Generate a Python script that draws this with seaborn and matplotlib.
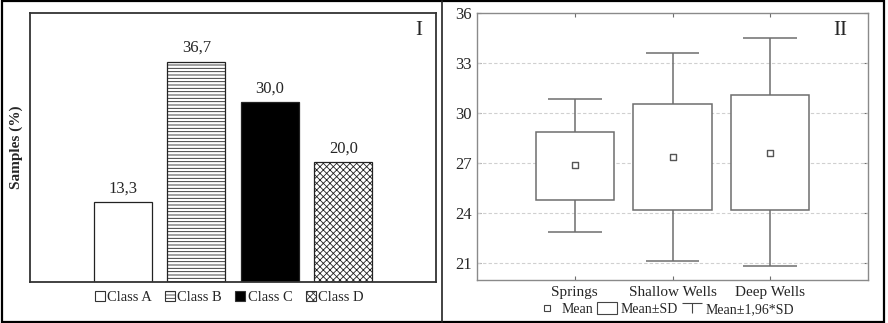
import numpy as np
import pandas as pd
import seaborn as sns
import matplotlib
matplotlib.use("Agg")
import matplotlib.pyplot as plt
from matplotlib.patches import Rectangle, Patch
from matplotlib.lines import Line2D
from matplotlib.path import Path

# ---------------- data ----------------
classes = ["Class A", "Class B", "Class C", "Class D"]
samples_pct = [13.3, 36.7, 30.0, 20.0]
bar_labels = ["13,3", "36,7", "30,0", "20,0"]

sites = ["Springs", "Shallow Wells", "Deep Wells"]
means = [26.88, 27.40, 27.64]
sd_low = [24.82, 24.22, 24.20]
sd_high = [28.86, 30.54, 31.10]
ci_low = [22.90, 21.16, 20.82]
ci_high = [30.84, 33.62, 34.50]
yticks_right = [21, 24, 27, 30, 33, 36]

# ---------------- style ----------------
sns.set_theme(style="white")
plt.rcParams["font.family"] = ["Liberation Serif", "DejaVu Serif"]
plt.rcParams["hatch.linewidth"] = 0.6
plt.rcParams["hatch.color"] = "#999999"

fig = plt.figure(figsize=(8.88, 3.23), dpi=100)

# ---------------- left panel ----------------
axL = fig.add_axes([30/888, 1-282/323, 406/888, 269/323])
df = pd.DataFrame({"cls": classes, "pct": samples_pct})
sns.barplot(data=df, x="cls", y="pct", order=classes, color="white",
            width=0.79, ax=axL, edgecolor="#222222", linewidth=0.9,
            saturation=1)
faces = ["white", "white", "black", "white"]
hatches = [None, "-----", None, "xxxxx"]
for p, fc, h in zip(axL.patches, faces, hatches):
    p.set_facecolor(fc)
    if h:
        p.set_hatch(h)
axL.bar_label(axL.containers[0], labels=bar_labels, padding=4, fontsize=12)
axL.set_xlim(-1.265, 4.26)
axL.set_ylim(0, 44.8)
axL.set_xticks([])
axL.set_yticks([])
axL.set_xlabel("")
axL.set_ylabel("Samples (%)", fontsize=11, fontweight="bold", labelpad=5)
for s in axL.spines.values():
    s.set_color("#333333")
    s.set_linewidth(1.3)
axL.text(0.958, 0.935, "I", transform=axL.transAxes, fontsize=15,
         ha="center", va="center")

legL_handles = [Patch(facecolor=fc, edgecolor="#333333", hatch=h, linewidth=0.8)
                for fc, h in zip(faces, hatches)]
fig.legend(legL_handles, classes, loc="center", bbox_to_anchor=(0.258, 0.080),
           ncol=4, frameon=False, fontsize=10.5, handlelength=0.7,
           handleheight=0.7, handletextpad=0.15, columnspacing=0.9,
           borderaxespad=0)

# ---------------- right panel ----------------
axR = fig.add_axes([477/888, 1-280/323, 391/888, 267/323])
gray = "#6e6e6e"
pos = np.arange(len(sites))
box_w = 0.8
cap_w = 0.55
axR.bar(pos, np.array(sd_high) - np.array(sd_low), bottom=sd_low, width=box_w,
        facecolor="white", edgecolor=gray, linewidth=1.1, zorder=2)
axR.vlines(pos, sd_high, ci_high, color=gray, linewidth=1.1, zorder=2)
axR.vlines(pos, ci_low, sd_low, color=gray, linewidth=1.1, zorder=2)
axR.hlines(ci_high, pos - cap_w/2, pos + cap_w/2, color=gray, linewidth=1.1, zorder=2)
axR.hlines(ci_low, pos - cap_w/2, pos + cap_w/2, color=gray, linewidth=1.1, zorder=2)
mdf = pd.DataFrame({"x": pos, "mean": means})
sns.scatterplot(data=mdf, x="x", y="mean", marker="s", s=24, facecolor="white",
                edgecolor="#555555", linewidth=1.0, ax=axR, zorder=3, legend=False)
axR.set_xlim(-1.0, 3.0)
axR.set_ylim(20, 36)
axR.set_xticks(pos)
axR.set_xticklabels(sites, fontsize=11)
axR.set_yticks(yticks_right)
axR.set_yticklabels([str(v) for v in yticks_right], fontsize=12)
axR.set_xlabel("")
axR.set_ylabel("")
axR.tick_params(axis="both", direction="in", length=3, color=gray, width=0.8,
                top=True, right=True, bottom=True, left=True, pad=4)
for t in [21, 24, 27, 30, 33]:
    axR.axhline(t, color="#d0d0d0", linestyle=(0, (3, 2)), linewidth=0.8, zorder=1)
for s in axR.spines.values():
    s.set_color("#8a8a8a")
    s.set_linewidth(1.0)
axR.text(0.93, 0.935, "II", transform=axR.transAxes, fontsize=15,
         ha="center", va="center")

tbar = Path([(-1, 0.5), (1, 0.5), (0, 0.5), (0, -0.5)],
            [Path.MOVETO, Path.LINETO, Path.MOVETO, Path.LINETO])
legR_handles = [
    Line2D([], [], linestyle="none", marker="s", markersize=5,
           markerfacecolor="white", markeredgecolor="#444444", markeredgewidth=0.8),
    Patch(facecolor="white", edgecolor="#444444", linewidth=0.8),
    Line2D([], [], linestyle="none", marker=tbar, markersize=14,
           markeredgecolor="#444444", markeredgewidth=0.8),
]
fig.legend(legR_handles, ["Mean", "Mean±SD", "Mean±1,96*SD"], loc="center",
           bbox_to_anchor=(0.750, 0.043), ncol=3, frameon=False, fontsize=10,
           handlelength=1.4, handleheight=0.9, handletextpad=0.3,
           columnspacing=0.3, borderaxespad=0)

# ---------------- outer frame and divider ----------------
fig.patches.append(Rectangle((0.002, 0.004), 0.994, 0.992, transform=fig.transFigure,
                             fill=False, edgecolor="black", linewidth=1.6))
fig.add_artist(Line2D([442/888, 442/888], [0.004, 0.996], transform=fig.transFigure,
                      color="#222222", linewidth=1.2))

fig.savefig("out.png", dpi=100)
